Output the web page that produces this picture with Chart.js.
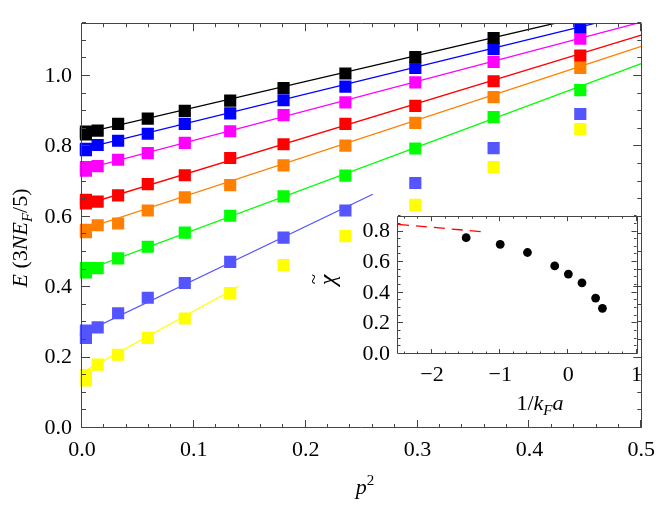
<!DOCTYPE html>
<html>
<head>
<meta charset="utf-8">
<script src="https://cdn.jsdelivr.net/npm/chart.js@4"></script>
<style>
html, body { margin: 0; padding: 0; background: #fff; }
#wrap { position: relative; width: 664px; height: 510px; }
#main { position: absolute; left: 0; top: 0; }
#inset { position: absolute; left: 310px; top: 195px; }
</style>
</head>
<body>
<div id="wrap">
  <canvas id="main" width="664" height="510"></canvas>
  <canvas id="inset" width="340" height="225"></canvas>
</div>
<script>
// main plot: E vs p^2, one list of energies per curve
const p2 = [0.0035, 0.0035, 0.014, 0.0323, 0.0588, 0.0919, 0.1325, 0.1802, 0.2355, 0.298, 0.368, 0.4455];
const eBlack   = [0.842, 0.834, 0.845, 0.864, 0.879, 0.901, 0.930, 0.966, 1.007, 1.054, 1.108, 1.165];
const eBlue    = [0.793, 0.789, 0.804, 0.816, 0.836, 0.864, 0.894, 0.931, 0.970, 1.023, 1.077, 1.139];
const eMagenta = [0.741, 0.731, 0.744, 0.762, 0.781, 0.810, 0.843, 0.889, 0.925, 0.982, 1.040, 1.106];
const eRed     = [0.648, 0.638, 0.643, 0.661, 0.693, 0.718, 0.767, 0.806, 0.864, 0.915, 0.985, 1.058];
const eOrange  = [0.563, 0.556, 0.576, 0.581, 0.618, 0.655, 0.690, 0.746, 0.802, 0.867, 0.940, 1.023];
const eGreen   = [0.454, 0.442, 0.454, 0.482, 0.515, 0.555, 0.603, 0.658, 0.717, 0.794, 0.883, 0.960];
const ePeri    = [0.277, 0.256, 0.286, 0.326, 0.370, 0.412, 0.472, 0.541, 0.618, 0.696, 0.795, 0.892];
const eYellow  = [0.150, 0.135, 0.180, 0.208, 0.256, 0.311, 0.383, 0.463, 0.545, 0.634, 0.741, 0.849];

// straight fits, [p2, E] at both ends
const fitBlack   = [[0, 0.836], [0.5, 1.207]];
const fitBlue    = [[0, 0.793], [0.5, 1.182]];
const fitMagenta = [[0, 0.733], [0.5, 1.153]];
const fitRed     = [[0, 0.632], [0.5, 1.116]];
const fitOrange  = [[0, 0.563], [0.5, 1.084]];
const fitGreen   = [[0, 0.444], [0.5, 1.035]];
const fitPeri    = [[0, 0.268], [0.26, 0.664]];
const fitYellow  = [[0, 0.158], [0.14, 0.402]];

// inset: chi~ vs 1/kFa
const invKfa = [-1.5, -1.0, -0.6, -0.2, 0.0, 0.2, 0.4, 0.5];
const chiT   = [0.760, 0.716, 0.663, 0.575, 0.522, 0.465, 0.365, 0.298];
const limitX = [-2.5, -1.2];
const limitY = [0.847, 0.796];

// tick marks
const mainXMajor = [0, 0.1, 0.2, 0.3, 0.4, 0.5];
const mainYMajor = [0, 0.2, 0.4, 0.6, 0.8, 1.0];
const insetXMajor = [-2, -1, 0, 1];
const insetYMajor = [0, 0.2, 0.4, 0.6, 0.8];
const mainXMinor = [], mainYMinor = [], insetXMinor = [], insetYMinor = [];
for (let i = 0; i <= 25; i++) mainXMinor.push(i * 0.02);
for (let i = 0; i <= 23; i++) mainYMinor.push(i * 0.05);
for (let i = -12; i <= 5; i++) insetXMinor.push(i * 0.2);
for (let i = 0; i <= 18; i++) insetYMinor.push(i * 0.05);

const curves = [
  { e: eBlack,   fit: fitBlack,   color: '#000000' },
  { e: eBlue,    fit: fitBlue,    color: '#0000ff' },
  { e: eMagenta, fit: fitMagenta, color: '#ff00ff' },
  { e: eRed,     fit: fitRed,     color: '#ff0000' },
  { e: eOrange,  fit: fitOrange,  color: '#ff8000' },
  { e: eGreen,   fit: fitGreen,   color: '#00ff00' },
  { e: ePeri,    fit: fitPeri,    color: '#5555ff' },
  { e: eYellow,  fit: fitYellow,  color: '#ffff00' }
];

const SERIF = '"Liberation Serif", "Times New Roman", serif';
Chart.defaults.font.family = SERIF;
Chart.defaults.font.size = 22;
Chart.defaults.color = '#000';

function fontFor(p, size) {
  const s = (p.sub || p.sup) ? Math.round(size * 0.68) : size;
  return (p.it ? 'italic ' : '') + s + 'px ' + SERIF;
}

// centred text with italics / sub / superscripts
function drawRich(ctx, parts, x, y, size, rotate) {
  ctx.save();
  ctx.translate(x, y);
  if (rotate) ctx.rotate(-Math.PI / 2);
  ctx.fillStyle = '#000';
  ctx.textBaseline = 'alphabetic';
  ctx.textAlign = 'left';
  let w = 0;
  for (const p of parts) { ctx.font = fontFor(p, size); w += ctx.measureText(p.t).width; }
  let cx = -w / 2;
  for (const p of parts) {
    ctx.font = fontFor(p, size);
    const dy = p.sub ? size * 0.22 : (p.sup ? -size * 0.42 : 0);
    ctx.fillText(p.t, cx, dy);
    const pw = ctx.measureText(p.t).width;
    if (p.tilde) {
      ctx.font = Math.round(size * 0.8) + 'px ' + SERIF;
      ctx.textAlign = 'center';
      ctx.fillText('~', cx + pw / 2 + 1, -size * 0.62);
      ctx.textAlign = 'left';
    }
    cx += pw;
  }
  ctx.restore();
}

// frame on four sides with inward ticks
const framePlugin = {
  id: 'frame',
  afterDatasetsDraw(chart, args, o) {
    const { ctx, chartArea: a, scales: { x, y } } = chart;
    ctx.save();
    ctx.strokeStyle = o.color;
    ctx.lineWidth = 1;
    ctx.beginPath();
    ctx.rect(Math.round(a.left) - 0.5, Math.round(a.top) + 0.5, Math.round(a.right - a.left) + 1, Math.round(a.bottom - a.top) - 1);
    ctx.stroke();
    const tick = (vals, len, isX) => {
      for (const v of vals) {
        if (isX) {
          const px = Math.round(x.getPixelForValue(v)) - 0.5;
          if (px < a.left - 1 || px > a.right + 1) continue;
          ctx.moveTo(px, a.bottom); ctx.lineTo(px, a.bottom - len);
          ctx.moveTo(px, a.top); ctx.lineTo(px, a.top + len);
        } else {
          const py = Math.round(y.getPixelForValue(v)) - 0.5;
          if (py < a.top - 1 || py > a.bottom + 1) continue;
          ctx.moveTo(a.left, py); ctx.lineTo(a.left + len, py);
          ctx.moveTo(a.right, py); ctx.lineTo(a.right - len, py);
        }
      }
    };
    ctx.beginPath();
    tick(o.xMinor, o.minor, true);
    tick(o.yMinor, o.minor, false);
    tick(o.xMajor, o.major, true);
    tick(o.yMajor, o.major, false);
    ctx.stroke();
    ctx.restore();
  },
  afterDraw(chart, args, o) {
    if (o.labels) o.labels(chart.ctx);
  }
};

const mainSets = [];
curves.forEach(c => {
  mainSets.push({
    data: c.fit.map(d => ({ x: d[0], y: d[1] })),
    showLine: true, borderColor: c.color, borderWidth: 1.3,
    pointRadius: 0, order: 2
  });
});
curves.forEach(c => {
  mainSets.push({
    data: p2.map((v, i) => ({ x: v, y: c.e[i] })),
    showLine: false, pointStyle: 'rect', pointRadius: 8.6,
    backgroundColor: c.color, borderColor: c.color, borderWidth: 0,
    order: 1, clip: { left: 8, right: 8, top: 0, bottom: 8 }
  });
});

new Chart(document.getElementById('main'), {
  type: 'scatter',
  data: { datasets: mainSets },
  options: {
    responsive: false, animation: false, devicePixelRatio: 1,
    layout: { padding: { top: 2, right: 16, left: 0, bottom: 0 } },
    plugins: {
      legend: { display: false }, tooltip: { enabled: false },
      frame: {
        color: '#444', major: 8, minor: 4,
        xMajor: mainXMajor, xMinor: mainXMinor, yMajor: mainYMajor, yMinor: mainYMinor,
        labels: ctx => {
          drawRich(ctx, [{ t: 'p', it: true }, { t: '2', sup: true }], 365, 494, 22, false);
          drawRich(ctx, [{ t: 'E', it: true }, { t: ' (3' }, { t: 'NE', it: true }, { t: 'F', it: true, sub: true }, { t: '/5)' }], 27, 238, 22, true);
        }
      }
    },
    scales: {
      x: {
        type: 'linear', min: 0, max: 0.5,
        grid: { display: false, drawTicks: false }, border: { display: false },
        ticks: { stepSize: 0.1, includeBounds: false, padding: 9, maxRotation: 0, callback: v => v.toFixed(1) },
        afterFit: s => { s.height = 82; }
      },
      y: {
        type: 'linear', min: 0, max: 1.15,
        grid: { display: false, drawTicks: false }, border: { display: false },
        ticks: { stepSize: 0.2, includeBounds: false, padding: 10, callback: v => v.toFixed(1) },
        afterFit: s => { s.width = 82; }
      }
    }
  },
  plugins: [framePlugin]
});

new Chart(document.getElementById('inset'), {
  type: 'scatter',
  data: {
    datasets: [
      {
        data: limitX.map((v, i) => ({ x: v, y: limitY[i] })),
        showLine: true, borderColor: '#ff0000', borderWidth: 1.3, borderDash: [11, 7],
        pointRadius: 0, order: 2
      },
      {
        data: invKfa.map((v, i) => ({ x: v, y: chiT[i] })),
        showLine: false, pointStyle: 'circle', pointRadius: 4.4,
        backgroundColor: '#000', borderWidth: 0, order: 1
      }
    ]
  },
  options: {
    responsive: false, animation: false, devicePixelRatio: 1,
    layout: { padding: { top: 11, right: 12, left: 0, bottom: 0 } },
    plugins: {
      legend: { display: false }, tooltip: { enabled: false },
      frame: {
        color: '#444', major: 5, minor: 2.5,
        xMajor: insetXMajor, xMinor: insetXMinor, yMajor: insetYMajor, yMinor: insetYMinor,
        labels: ctx => {
          drawRich(ctx, [{ t: '1/' }, { t: 'k', it: true }, { t: 'F', it: true, sub: true }, { t: 'a', it: true }], 230, 215, 22, false);
          drawRich(ctx, [{ t: 'χ', it: true, tilde: true }], 25, 85, 24, true);
        }
      }
    },
    scales: {
      x: {
        type: 'linear', min: -2.5, max: 1,
        grid: { display: false, drawTicks: false }, border: { display: false },
        ticks: { stepSize: 1, includeBounds: false, padding: 8, maxRotation: 0,
          callback: v => v < 0 ? '\u2212' + Math.abs(v) : String(v) },
        afterFit: s => { s.height = 66; }
      },
      y: {
        type: 'linear', min: 0, max: 0.9,
        grid: { display: false, drawTicks: false }, border: { display: false },
        ticks: { stepSize: 0.2, includeBounds: false, padding: 8, callback: v => v.toFixed(1) },
        afterFit: s => { s.width = 88; }
      }
    }
  },
  plugins: [framePlugin]
});
</script>
</body>
</html>
